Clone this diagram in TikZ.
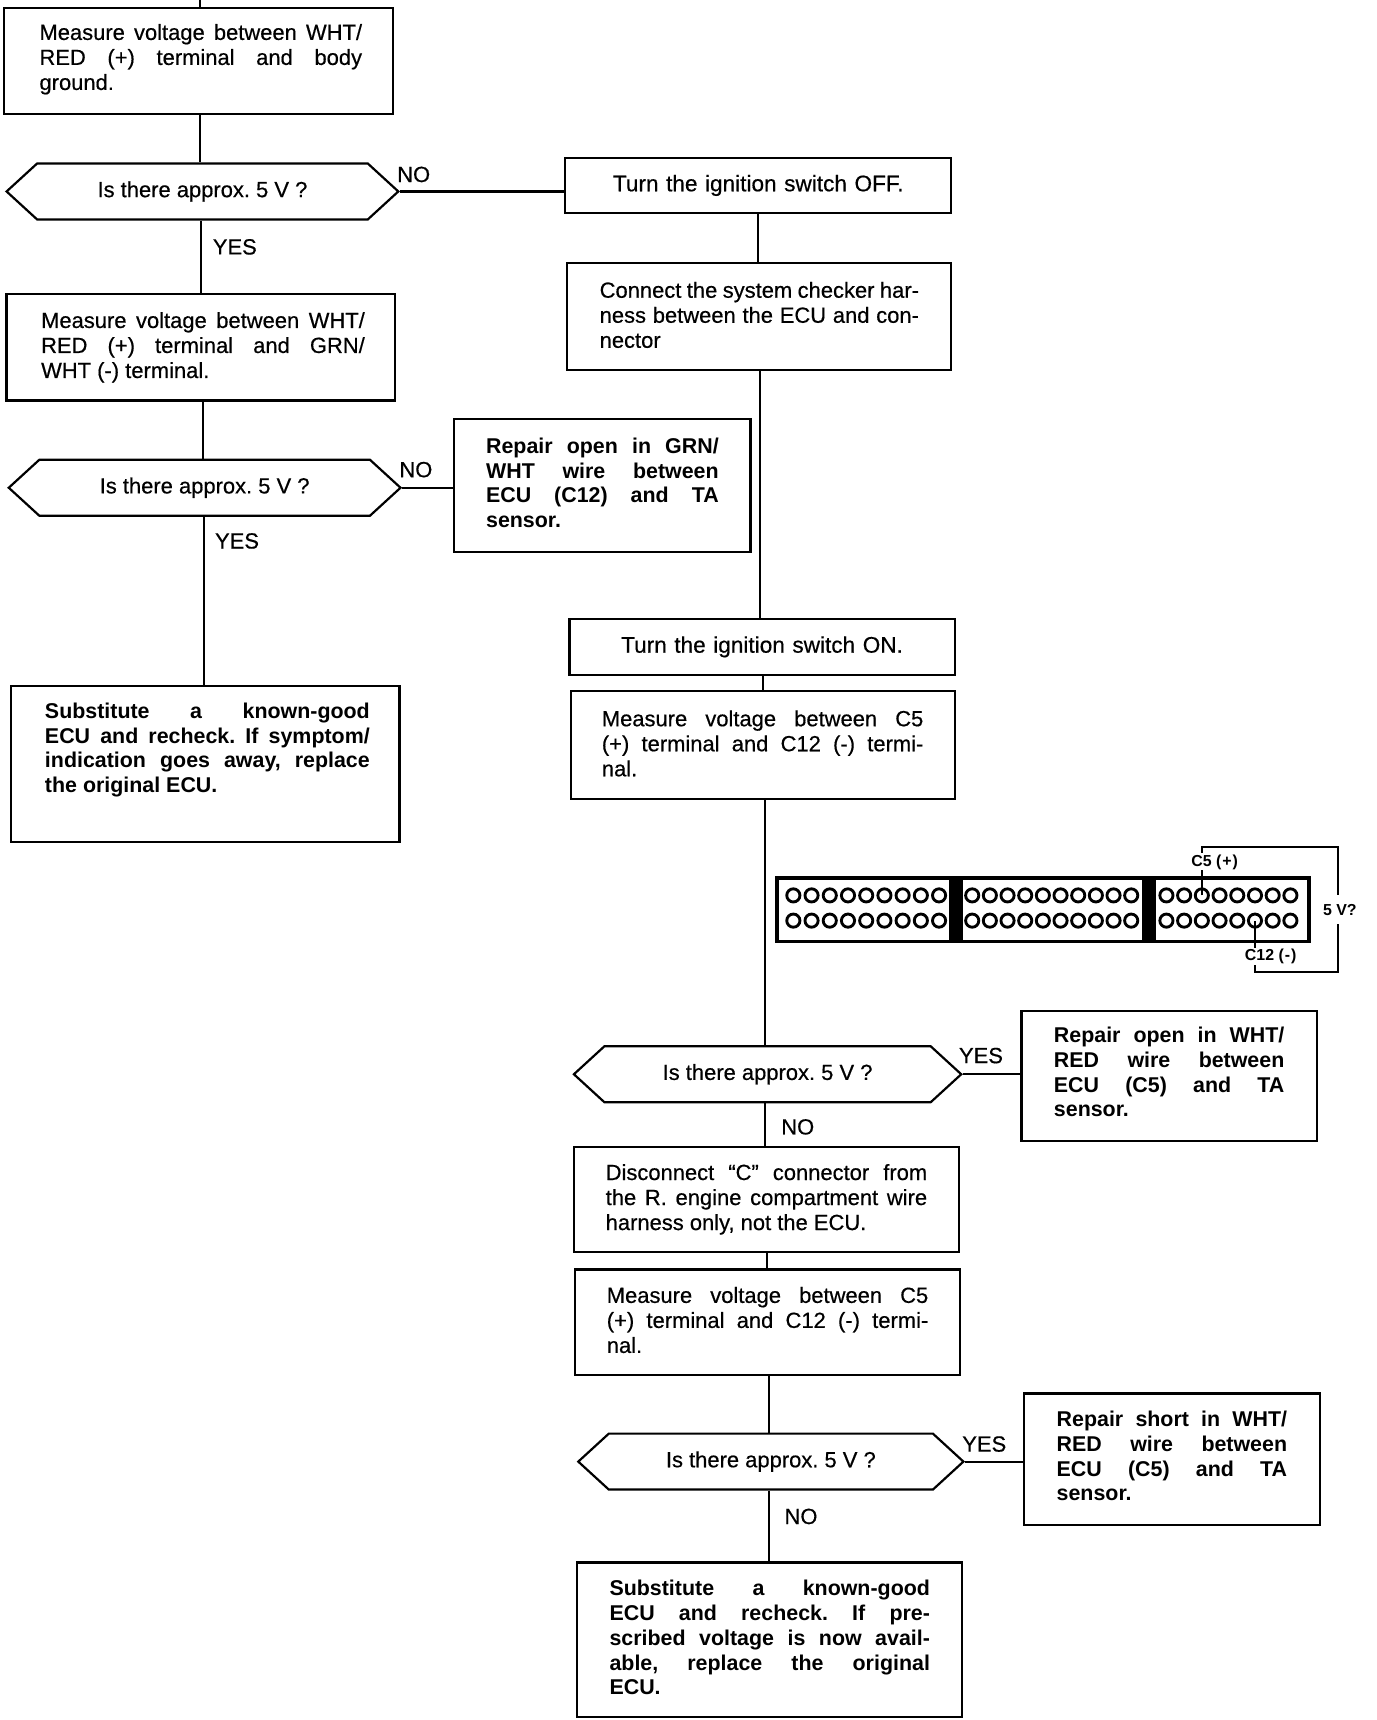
\documentclass[tikz,border=0pt]{standalone}
\usepackage{fontspec}
\setmainfont{Liberation Sans}
\newfontfamily\inkfont[FakeBold=0.5]{Liberation Sans}
\usetikzlibrary{shapes.symbols}
\newcommand{\lift}[1]{\par\vskip#1\hrule height 0pt}
\frenchspacing
\tikzset{
	box/.style={draw,line width=2pt,inner sep=0pt,align=justify,font=\fontsize{20}{22.8}\selectfont\inkfont},
	boldbox/.style={box,font=\fontsize{19.5}{22.6}\selectfont\bfseries},
	onebox/.style={box,align=center,font=\fontsize{20.6}{23}\selectfont\inkfont},
	nudged/.style={execute at begin node={\leftskip=#1\relax}},
	hexa/.style={draw,line width=2pt,inner sep=0pt,font=\fontsize{20}{23}\selectfont\inkfont,signal,signal to=west and east,signal pointer angle=85,minimum height=51pt},
	link/.style={line width=2pt},
	tag/.style={font=\fontsize{20}{23}\selectfont\inkfont},
	pin/.style={circle,draw,line width=2.6pt,minimum size=12pt,inner sep=0pt},
	bar/.style={fill=black,minimum width=13pt,minimum height=58pt,inner sep=0pt},
	wire/.style={line width=2pt},
	pinlabel/.style={fill=white,inner sep=1pt,font=\fontsize{14.5}{16}\selectfont\bfseries}
}
\begin{document}
\begin{tikzpicture}[x=1pt,y=-1pt]
	\useasboundingbox (0,0) rectangle (1254,1567.5);
	% left column
	\coordinate (topin) at (182,0);
	\node[box,nudged=4pt,minimum width=354pt,minimum height=97pt,text width=298pt] (meas1) at (181,55.5) {Measure voltage between WHT/\linebreak RED (+) terminal and body\linebreak ground.\lift{3pt}};
	\node[hexa,minimum width=357pt] (ask1) at (184.5,174.5) {Is there approx. 5 V ?};
	\node[box,nudged=4pt,minimum width=354pt,minimum height=97pt,text width=299pt] (meas2) at (183,316.5) {Measure voltage between WHT/\linebreak RED (+) terminal and GRN/\linebreak WHT (-) terminal.};
	\node[hexa,minimum width=357pt] (ask2) at (186.5,444.5) {Is there approx. 5 V ?};
	\node[boldbox,minimum width=270pt,minimum height=121pt,text width=212pt] (fix1) at (549,442.5) {Repair open in GRN/\linebreak WHT wire between\linebreak ECU (C12) and TA\linebreak sensor.\lift{5pt}};
	\node[boldbox,nudged=4pt,minimum width=354pt,minimum height=142pt,text width=300pt] (sub1) at (187,696) {Substitute a known-good\linebreak ECU and recheck. If symptom/\linebreak indication goes away, replace\linebreak the original ECU.\lift{25pt}};
	% right column
	\node[onebox,minimum width=352pt,minimum height=50pt,text width=300pt] (off) at (691,169) {Turn the ignition switch OFF.};
	\node[box,minimum width=350pt,minimum height=97pt,text width=291pt] (harness) at (692,288.5) {Connect the system checker har-\linebreak ness between the ECU and con-\linebreak nector\lift{3pt}};
	\node[onebox,minimum width=351pt,minimum height=51pt,text width=300pt] (on) at (694.5,589.5) {Turn the ignition switch ON.};
	\node[box,minimum width=350pt,minimum height=98pt,text width=293pt] (meas3) at (695,679) {Measure voltage between C5\linebreak (+) terminal and C12 (-) termi-\linebreak nal.\lift{3pt}};
	\node[hexa,minimum width=353pt] (ask3) at (699.5,979) {Is there approx. 5 V ?};
	\node[boldbox,minimum width=269pt,minimum height=119pt,text width=210pt] (fix2) at (1065.5,980.5) {Repair open in WHT/\linebreak RED wire between\linebreak ECU (C5) and TA\linebreak sensor.\lift{7pt}};
	\node[box,minimum width=351pt,minimum height=96pt,text width=293pt] (cut) at (698.5,1093) {Disconnect “C” connector from\linebreak the R. engine compartment wire\linebreak harness only, not the ECU.};
	\node[box,minimum width=351pt,minimum height=96pt,text width=293pt] (meas4) at (699.5,1205) {Measure voltage between C5\linebreak (+) terminal and C12 (-) termi-\linebreak nal.\lift{4pt}};
	\node[hexa,minimum width=351pt] (ask4) at (702.5,1332) {Is there approx. 5 V ?};
	\node[boldbox,minimum width=270pt,minimum height=120pt,text width=210pt] (fix3) at (1068,1330) {Repair short in WHT/\linebreak RED wire between\linebreak ECU (C5) and TA\linebreak sensor.\lift{6pt}};
	\node[boldbox,minimum width=351pt,minimum height=141pt,text width=292pt] (sub2) at (701.5,1494.5) {Substitute a known-good\linebreak ECU and recheck. If pre-\linebreak scribed voltage is now avail-\linebreak able, replace the original\linebreak ECU.\lift{4pt}};
	% connector
	\node[draw,line width=3.5pt,minimum width=485pt,minimum height=58pt,inner sep=0pt] (conn) at (950.5,829) {};
	\node[bar] (barl) at (871,829) {};
	\node[bar] (barr) at (1047,829) {};
	\foreach \i in {0,...,8} {
		\node[pin] (pa\i) at ({723+\i*16.6},816) {};
		\node[pin] (pb\i) at ({723+\i*16.6},839) {};
	}
	\foreach \i in {0,...,9} {
		\node[pin] (qa\i) at ({886+\i*16.1},816) {};
		\node[pin] (qb\i) at ({886+\i*16.1},839) {};
	}
	\foreach \i in {0,...,7} {
		\node[pin] (ra\i) at ({1063+\i*16.14},816) {};
		\node[pin] (rb\i) at ({1063+\i*16.14},839) {};
	}
	\coordinate (wiretop) at (1219,772);
	\coordinate (wirebot) at (1219,885.5);
	\draw[wire] (ra2.center) -- (ra2 |- wiretop) -- (wiretop) -- (wirebot) -- (rb5 |- wirebot) -- (rb5.center);
	\node[pinlabel] (plus) at (1107,785.5) {C5 {\addfontfeature{LetterSpace=6}(+)}};
	\node[pinlabel] (minus) at (1158,872) {C12 {\addfontfeature{LetterSpace=6}(-)}};
	\node[pinlabel,inner ysep=8pt] (volts) at (1221,829) {5 V?};
	% links
	\draw[link] (topin) -- (topin |- meas1.north);
	\foreach \a/\b/\x in {meas1/ask1/182,ask1/meas2/183.5,meas2/ask2/185,ask2/sub1/186,off/harness/691,harness/on/692.5,on/meas3/695,meas3/ask3/697.5,ask3/cut/697.5,cut/meas4/699,meas4/ask4/701,ask4/sub2/701}
		\draw[link] (\x,0 |- \a.south) -- (\x,0 |- \b.north);
	\foreach \a/\b in {ask1/off,ask2/fix1,ask3/fix2,ask4/fix3}
		\draw[link] (\a.east) -- (\a.east -| \b.west);
	% answers
	\node[tag] (no1) at (377,159) {NO};
	\node[tag] (yes1) at (214,225) {YES};
	\node[tag] (no2) at (379,428) {NO};
	\node[tag] (yes2) at (216,493) {YES};
	\node[tag] (yes3) at (894,962) {YES};
	\node[tag] (no3) at (727,1027) {NO};
	\node[tag] (yes4) at (897,1316) {YES};
	\node[tag] (no4) at (730,1382) {NO};
\end{tikzpicture}
\end{document}
